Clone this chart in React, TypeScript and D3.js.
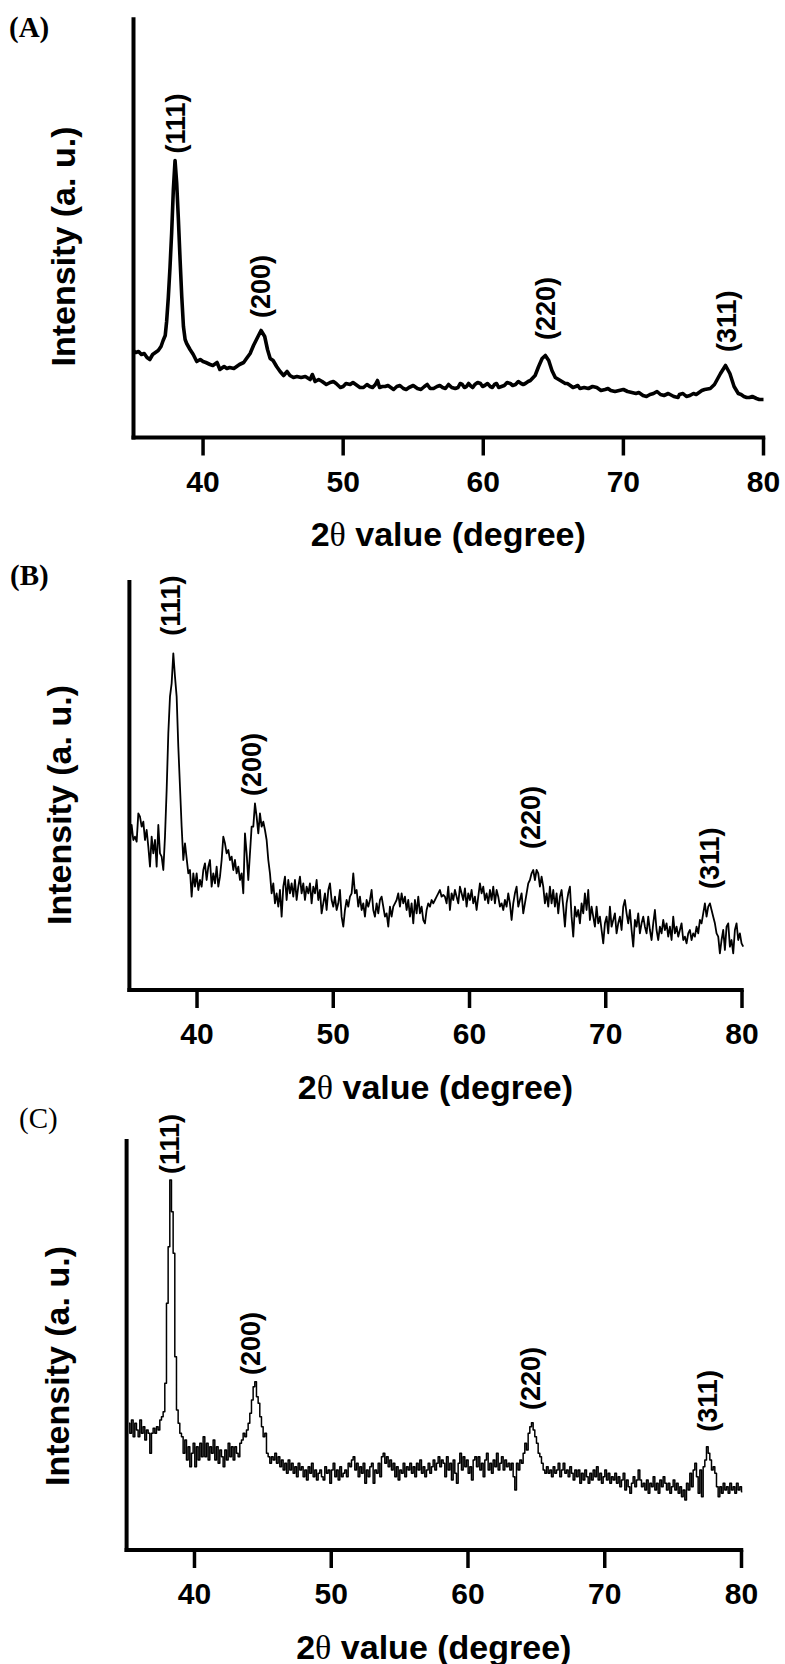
import React from 'react';
import * as d3 from 'd3';

// shared axis and annotation text
const TWO_THETA_TICKS = [40, 50, 60, 70, 80];
const PEAK_NAMES = ['(111)', '(200)', '(220)', '(311)'];

// (A) pattern, read as [2θ, intensity] pairs
const A_PATTERN: [number, number][] = [
  [35.0, 87], [35.2, 85], [35.4, 86], [35.6, 83], [35.8, 84], [36.0, 80], [36.2, 78], [36.4, 83], [36.6, 85],
  [36.8, 87], [37.0, 91], [37.15, 97], [37.3, 102], [37.4, 116], [37.52, 140], [37.64, 170], [37.76, 205],
  [37.88, 248], [38.0, 277], [38.12, 254], [38.24, 218], [38.36, 178], [38.48, 141], [38.6, 111], [38.72, 98],
  [38.83, 94], [39.07, 88], [39.3, 83], [39.55, 76], [39.8, 78], [40.0, 76], [40.2, 75], [40.5, 73], [40.7, 72],
  [41.0, 75], [41.2, 68], [41.5, 71], [41.7, 69], [41.9, 70], [42.2, 69], [42.4, 71], [42.6, 73], [42.9, 75],
  [43.1, 79], [43.36, 84], [43.6, 92], [43.85, 99], [44.14, 107], [44.4, 101], [44.6, 88], [44.79, 79],
  [45.0, 77], [45.25, 71], [45.5, 66], [45.75, 62], [46.0, 66], [46.2, 62], [46.45, 60], [46.7, 61], [47.0, 60],
  [47.3, 61], [47.64, 58], [47.8, 63], [48.0, 56], [48.25, 58], [48.5, 56], [48.8, 53], [49.07, 55], [49.3, 56],
  [49.5, 54], [49.8, 50], [50.0, 51], [50.2, 54], [50.5, 53], [50.7, 55], [51.0, 52], [51.2, 50], [51.45, 50],
  [51.7, 53], [51.9, 51], [52.1, 50], [52.3, 53], [52.45, 57], [52.6, 50], [52.8, 51], [53.0, 51], [53.2, 52],
  [53.4, 50], [53.6, 48], [53.83, 51], [54.05, 52], [54.3, 49], [54.5, 48], [54.7, 50], [55.0, 52], [55.3, 49],
  [55.55, 48], [55.8, 51], [56.0, 53], [56.21, 49], [56.45, 49], [56.7, 51], [56.9, 52], [57.1, 50], [57.3, 49],
  [57.52, 53], [57.75, 50], [58.0, 49], [58.2, 50], [58.35, 54], [58.5, 53], [58.65, 50], [58.8, 51], [58.95, 54],
  [59.07, 52], [59.25, 50], [59.4, 53], [59.6, 55], [59.8, 54], [59.95, 51], [60.1, 52], [60.3, 54], [60.5, 51],
  [60.65, 50], [60.8, 53], [60.95, 54], [61.1, 50], [61.3, 51], [61.5, 52], [61.7, 55], [61.93, 54], [62.1, 52],
  [62.3, 53], [62.5, 56], [62.7, 54], [62.85, 53], [63.0, 54], [63.2, 56], [63.36, 57], [63.7, 62], [63.95, 71],
  [64.2, 79], [64.43, 82], [64.67, 77], [64.9, 67], [65.14, 60], [65.5, 57], [65.85, 54], [66.0, 54], [66.21, 52],
  [66.4, 50], [66.6, 51], [66.75, 52], [66.9, 49], [67.2, 50], [67.5, 49], [67.8, 51], [68.1, 50], [68.4, 47],
  [68.7, 48], [68.9, 49], [69.1, 47], [69.4, 46], [69.7, 47], [70.0, 48], [70.3, 46], [70.6, 45], [70.9, 44],
  [71.1, 45], [71.4, 42], [71.65, 41], [71.9, 43], [72.15, 44], [72.4, 46], [72.65, 43], [72.9, 42], [73.2, 44],
  [73.6, 41], [73.9, 40], [74.0, 43], [74.25, 44], [74.5, 41], [74.75, 42], [75.0, 44], [75.2, 43], [75.4, 45],
  [75.6, 47], [75.8, 48], [76.2, 49], [76.5, 53], [76.93, 64], [77.29, 72], [77.6, 64], [77.9, 51], [78.2, 44],
  [78.4, 43], [78.6, 41], [78.8, 40], [79.0, 40], [79.2, 41], [79.5, 39], [79.7, 38], [80.0, 38],
];
const A_PEAK_2THETA = [38.24, 44.29, 64.61, 77.5];
const A_PEAK_LABEL_AT = [284, 119.5, 97.5, 85.5];

// (B) evenly stepped scan: first and last 2θ, then the counts
const B_SCAN = [35.08, 80.09];
const B_INTENSITY = [
  450, 495, 450, 460, 445, 530, 520, 490, 505, 450, 480, 430, 370, 460, 410, 450, 370, 495, 410, 400,
  360, 460, 600, 770, 880, 920, 1010, 940, 880, 730, 610, 490, 390, 440, 395, 350, 360, 280, 350, 310,
  350, 300, 330, 310, 360, 380, 330, 370, 390, 310, 350, 320, 370, 310, 340, 390, 460, 440, 410, 420,
  390, 400, 360, 390, 350, 370, 330, 350, 290, 470, 410, 330, 410, 490, 490, 560, 520, 470, 530, 490,
  505, 480, 450, 390, 350, 290, 320, 260, 290, 250, 300, 220, 310, 340, 270, 330, 290, 320, 280, 330,
  270, 310, 340, 290, 320, 270, 310, 290, 320, 260, 310, 290, 330, 270, 300, 230, 260, 290, 240, 300,
  320, 270, 250, 280, 240, 260, 300, 220, 190, 240, 270, 250, 280, 290, 350, 290, 300, 250, 280, 240,
  260, 220, 270, 250, 270, 300, 240, 220, 260, 230, 270, 280, 250, 220, 230, 190, 250, 220, 250, 260,
  270, 290, 250, 290, 260, 280, 240, 270, 220, 260, 200, 270, 230, 280, 230, 250, 210, 200, 240, 260,
  250, 270, 260, 270, 280, 290, 300, 280, 285,
  280, 260, 310, 240, 290, 270, 300, 280, 260, 310, 290, 270, 305, 250, 290, 270, 300, 260, 280, 240,
  280, 320, 290, 310, 270, 290, 260, 300, 270, 310, 260, 300, 280, 250, 260, 240, 270, 250, 290, 260,
  210, 260, 290, 310, 250, 270, 290, 230, 260, 290, 320, 330, 350, 360, 330, 360, 350, 310, 340, 310,
  260, 290, 250, 310, 260, 300, 250, 290, 230, 280, 300, 250, 190, 260, 290, 310, 220, 160, 250, 220,
  240, 200, 260, 230, 290, 240, 300, 210, 250, 220, 190, 250, 200, 220, 180, 140, 200, 220, 170, 250,
  190, 210, 230, 170, 200, 220, 180, 250, 270, 230, 200, 240, 180, 130, 210, 190, 230, 170, 200, 220,
  190, 170, 220, 180, 150, 200, 240, 180, 150, 190, 170, 210, 180, 200, 160, 190, 150, 220, 170, 190,
  160, 180, 200, 150, 160, 140, 170, 180, 150, 170, 160, 190, 170, 210, 200, 230, 260, 220, 250, 260,
  240, 220, 200, 170, 160, 110, 150, 180, 120, 190, 200, 130, 150, 110, 180, 200, 150, 170, 140, 130,
];
const B_PEAK_2THETA = [38.2, 44.18, 64.66, 77.8];
const B_PEAK_LABEL_AT = [1063, 582, 423, 303];

// (C) evenly stepped scan
const C_SCAN = [35.21, 80.06];
const C_INTENSITY = [
  380, 350, 390, 340, 380, 360, 340, 390, 350, 370, 330, 360, 350, 290, 350, 365, 350, 370, 360, 390,
  400, 415, 500, 740, 910, 1110, 1015, 890, 580, 420, 380, 350, 340, 290, 330, 270, 310, 250, 290, 320,
  250, 310, 270, 320, 280, 340, 280, 320, 270, 310, 290, 330, 270, 310, 260, 300, 280, 250, 300, 270,
  320, 280, 310, 270, 310, 290, 280, 320, 330, 350, 340, 360, 380, 410, 450, 490, 505, 460, 440, 400,
  370, 340, 350, 290, 280, 260, 280, 270, 290, 260, 280, 250, 270, 240, 260, 230, 270, 240, 260, 230,
  250, 220, 260, 240, 250, 220, 240, 210, 250, 230, 260, 220, 240, 210, 230, 240, 220, 210, 250, 230,
  240, 200, 240, 260, 220, 240, 210, 250, 220, 230, 240, 220, 260, 250, 270, 280, 240, 260, 220, 250,
  230, 260, 200, 240, 220, 250, 260, 200, 240, 230, 260, 220, 280, 290, 260, 280, 250, 270, 240, 260,
  220, 250, 210, 240, 230, 260, 220, 250, 240, 260, 230, 250, 220, 260, 240, 270, 230, 250, 220, 240,
  260, 230, 250, 270, 240, 260, 280, 250, 270,
  260, 220, 280, 240, 260, 210, 270, 230, 200, 260, 290, 240, 280, 250, 270, 230, 250, 210, 270, 280,
  250, 280, 240, 260, 220, 270, 290, 240, 260, 230, 270, 250, 290, 240, 260, 280, 240, 270, 250, 260,
  240, 260, 220, 180, 260, 240, 270, 260, 290, 320, 300, 350, 370, 382, 360, 340, 320, 290, 280, 260,
  240, 230, 250, 230, 240, 220, 250, 230, 240, 260, 220, 240, 260, 230, 240, 220, 250, 230, 210, 240,
  220, 240, 200, 230, 210, 240, 220, 200, 230, 210, 240, 220, 250, 210, 230, 200, 220, 240, 210, 230,
  200, 220, 210, 230, 200, 220, 190, 210, 230, 180, 210, 190, 170, 200, 220, 190, 210, 240, 210, 190,
  200, 180, 210, 170, 200, 190, 220, 180, 200, 170, 210, 190, 220, 200, 180, 200, 170, 190, 210, 180,
  200, 170, 190, 160, 180, 150, 200, 180, 230, 190, 240, 260, 220, 170, 240, 160, 250, 270, 310, 290,
  270, 240, 250, 230, 190, 160, 190, 170, 200, 180, 190, 170, 200, 180, 190, 170, 200, 180, 190, 175,
];
const C_PEAK_2THETA = [38.36, 44.28, 64.75, 77.73];
const C_PEAK_LABEL_AT = [1128, 525, 420, 355];

const SANS = '"Liberation Sans", Arial, Helvetica, sans-serif';
const SERIF = '"Liberation Serif", "Times New Roman", serif';

type PanelProps = {
  letter: string;
  letterWeight: string;
  letterPos: [number, number];
  points: [number, number][];
  yMax: number;
  xRange: [number, number];
  yRange: [number, number];
  strokeWidth: number;
  curve: d3.CurveFactory;
  peakX: number[];
  peakLabelAt: number[];
  yLabelPos: [number, number];
};

function Panel(p: PanelProps) {
  const x = d3.scaleLinear().domain([35, 80]).range(p.xRange);
  const y = d3.scaleLinear().domain([0, p.yMax]).range(p.yRange);
  const line = d3.line<[number, number]>()
    .x(d => x(d[0]))
    .y(d => y(d[1]))
    .curve(p.curve);

  const [x0, x1] = p.xRange;
  const [yb, yt] = p.yRange;

  return (
    <g>
      <text x={p.letterPos[0]} y={p.letterPos[1]} fontFamily={SERIF} fontWeight={p.letterWeight} fontSize={29}>
        {p.letter}
      </text>

      <path d={line(p.points) || ''} fill="none" stroke="#000" strokeWidth={p.strokeWidth} strokeLinejoin="round" />

      {/* axes */}
      <line x1={x0 + 0.5} x2={x0 + 0.5} y1={yt} y2={yb + 2} stroke="#000" strokeWidth={4} />
      <line x1={x0 - 1.5} x2={x1 + 1.75} y1={yb} y2={yb} stroke="#000" strokeWidth={4} />
      {TWO_THETA_TICKS.map(t => (
        <g key={t}>
          <line x1={x(t)} x2={x(t)} y1={yb} y2={yb + 18} stroke="#000" strokeWidth={3.5} />
          <text x={x(t)} y={yb + 54} textAnchor="middle" fontFamily={SANS} fontWeight="bold" fontSize={30}>
            {t}
          </text>
        </g>
      ))}

      <text x={(x0 + x1) / 2} y={yb + 108.5} textAnchor="middle" fontFamily={SANS} fontWeight="bold" fontSize={34}>
        <tspan>2</tspan>
        <tspan fontFamily={SERIF} fontWeight="normal">θ</tspan>
        <tspan> value (degree)</tspan>
      </text>

      <text
        transform={`translate(${p.yLabelPos[0]},${p.yLabelPos[1]}) rotate(-90)`}
        textAnchor="middle"
        dy="0.26em"
        fontFamily={SANS}
        fontWeight="bold"
        fontSize={34}
      >
        Intensity (a. u.)
      </text>

      {PEAK_NAMES.map((name, i) => (
        <text
          key={name}
          transform={`translate(${x(p.peakX[i])},${y(p.peakLabelAt[i])}) rotate(-90)`}
          dy="0.26em"
          fontFamily={SANS}
          fontWeight="bold"
          fontSize={27}
        >
          {name}
        </text>
      ))}
    </g>
  );
}

// pair an evenly stepped scan with its 2θ values
function scanPoints(scan: number[], counts: number[]): [number, number][] {
  const s = d3.scaleLinear().domain([0, counts.length - 1]).range(scan);
  return counts.map((c, i) => [s(i), c] as [number, number]);
}

export default function App() {
  return (
    <svg
      width={785}
      height={1664}
      style={{ position: 'absolute', left: 0, top: 0, background: '#fff' }}
    >
      <rect width={785} height={1664} fill="#fff" />
      <Panel
        letter="(A)"
        letterWeight="bold"
        letterPos={[9, 37]}
        points={A_PATTERN}
        yMax={420.2}
        xRange={[133, 763.5]}
        yRange={[437.5, 17.3]}
        strokeWidth={3.6}
        curve={d3.curveLinear}
        peakX={A_PEAK_2THETA}
        peakLabelAt={A_PEAK_LABEL_AT}
        yLabelPos={[65.8, 246.5]}
      />
      <Panel
        letter="(B)"
        letterWeight="bold"
        letterPos={[10, 585]}
        points={scanPoints(B_SCAN, B_INTENSITY)}
        yMax={1230}
        xRange={[128.9, 742]}
        yRange={[990, 580]}
        strokeWidth={1.8}
        curve={d3.curveLinear}
        peakX={B_PEAK_2THETA}
        peakLabelAt={B_PEAK_LABEL_AT}
        yLabelPos={[62, 805]}
      />
      <Panel
        letter="(C)"
        letterWeight="normal"
        letterPos={[19, 1128]}
        points={scanPoints(C_SCAN, C_INTENSITY)}
        yMax={1233}
        xRange={[126.1, 741.5]}
        yRange={[1550, 1139]}
        strokeWidth={1.5}
        curve={d3.curveStep}
        peakX={C_PEAK_2THETA}
        peakLabelAt={C_PEAK_LABEL_AT}
        yLabelPos={[60, 1366]}
      />
    </svg>
  );
}
